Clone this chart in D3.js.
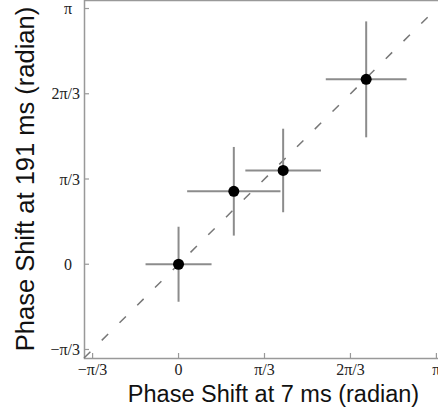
<!DOCTYPE html>
<html>
<head>
<meta charset="utf-8">
<script src="https://cdn.jsdelivr.net/npm/d3@7"></script>
<style>
  html, body { margin: 0; padding: 0; background: #fff; }
  svg { display: block; }
  .tick-label { font-family: "Liberation Serif", "Times New Roman", serif; font-size: 16px; fill: #222; }
  .axis-title { font-family: "Liberation Sans", Arial, sans-serif; fill: #111; }
</style>
</head>
<body>
<svg id="chart" width="438" height="419"></svg>
<script>
  // ---- Data (units of pi/3) ----
  const pointsX = [0, 0.643, 1.217, 2.183];      // phase shift at 7 ms
  const pointsY = [0, 0.856, 1.10, 2.169];       // phase shift at 191 ms
  const errX = [0.384, 0.543, 0.44, 0.47];
  const errY = [0.44, 0.52, 0.49, 0.68];
  const tickValues = [-1, 0, 1, 2, 3];
  const tickLabels = ["\u2212\u03c0/3", "0", "\u03c0/3", "2\u03c0/3", "\u03c0"];

  (function () {
    const svg = d3.select("#chart");
    const M = { left: 84, right: 445, top: 0, bottom: 358 };
    const domain = [-1.1, 3.1];

    const x = d3.scaleLinear().domain(domain).range([M.left, M.right]);
    const y = d3.scaleLinear().domain(domain).range([M.bottom, M.top]);

    const axisColor = "#999";
    const barColor = "#8c8c8c";

    // frame
    svg.append("rect")
      .attr("x", M.left + 0.5).attr("y", M.top + 0.5)
      .attr("width", M.right - M.left).attr("height", M.bottom - M.top)
      .attr("fill", "none").attr("stroke", axisColor).attr("stroke-width", 1.5);

    // ticks (inward)
    svg.append("g").selectAll("line").data(tickValues).join("line")
      .attr("x1", (d) => x(d)).attr("x2", (d) => x(d))
      .attr("y1", M.bottom).attr("y2", M.bottom - 5)
      .attr("stroke", axisColor).attr("stroke-width", 1.2);
    svg.append("g").selectAll("line").data(tickValues).join("line")
      .attr("x1", M.left).attr("x2", M.left + 5)
      .attr("y1", (d) => y(d)).attr("y2", (d) => y(d))
      .attr("stroke", axisColor).attr("stroke-width", 1.2);

    // tick labels
    svg.append("g").selectAll("text").data(tickValues).join("text")
      .attr("class", "tick-label")
      .attr("x", (d) => x(d)).attr("y", M.bottom + 17)
      .attr("text-anchor", "middle")
      .text((d, i) => tickLabels[i]);
    svg.append("g").selectAll("text").data(tickValues).join("text")
      .attr("class", "tick-label")
      .attr("x", (d, i) => (tickLabels[i].length > 2 ? M.left - 4 : M.left - 12))
      .attr("y", (d) => y(d))
      .attr("dy", "0.35em")
      .attr("text-anchor", "end")
      .text((d, i) => tickLabels[i]);

    // identity line
    svg.append("line")
      .attr("x1", x(domain[0])).attr("y1", y(domain[0]))
      .attr("x2", x(domain[1])).attr("y2", y(domain[1]))
      .attr("stroke", "#777").attr("stroke-width", 1.5)
      .attr("stroke-dasharray", "9,16");

    const data = pointsX.map((px, i) => ({ px, py: pointsY[i], ex: errX[i], ey: errY[i] }));

    const g = svg.append("g");
    g.selectAll("line.h").data(data).join("line")
      .attr("class", "h")
      .attr("x1", (d) => x(d.px - d.ex)).attr("x2", (d) => x(d.px + d.ex))
      .attr("y1", (d) => y(d.py)).attr("y2", (d) => y(d.py))
      .attr("stroke", barColor).attr("stroke-width", 2);
    g.selectAll("line.v").data(data).join("line")
      .attr("class", "v")
      .attr("x1", (d) => x(d.px)).attr("x2", (d) => x(d.px))
      .attr("y1", (d) => y(d.py - d.ey)).attr("y2", (d) => y(d.py + d.ey))
      .attr("stroke", barColor).attr("stroke-width", 2);
    g.selectAll("circle").data(data).join("circle")
      .attr("cx", (d) => x(d.px)).attr("cy", (d) => y(d.py))
      .attr("r", 5.5).attr("fill", "#000");

    // axis titles
    svg.append("text")
      .attr("class", "axis-title")
      .attr("x", 273.5).attr("y", 402)
      .attr("text-anchor", "middle")
      .style("font-size", "23.5px")
      .text("Phase Shift at 7 ms (radian)");
    svg.append("text")
      .attr("class", "axis-title")
      .attr("transform", "translate(34,179) rotate(-90)")
      .attr("text-anchor", "middle")
      .style("font-size", "25.5px")
      .text("Phase Shift at 191 ms (radian)");
  })();
</script>
</body>
</html>
